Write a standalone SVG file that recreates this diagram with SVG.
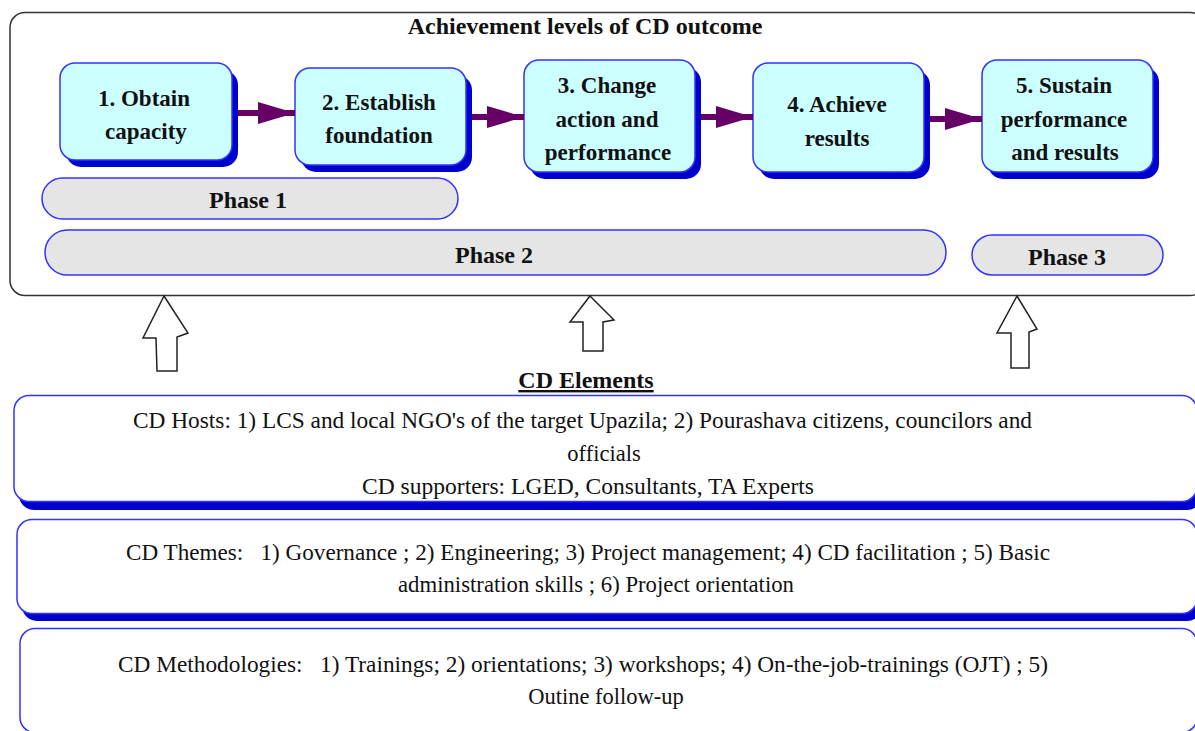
<svg xmlns="http://www.w3.org/2000/svg" width="1195" height="731" viewBox="0 0 1195 731">
  <style>
    .frame { fill: #ffffff; stroke: #333333; stroke-width: 1.5; }
    .level { fill: #ccffff; stroke: #3333ff; stroke-width: 1.5; }
    .shadow { fill: #0000cc; }
    .phase { fill: #e5e5e5; stroke: #3333ff; stroke-width: 1.5; }
    .panel { fill: #ffffff; stroke: #3333ff; stroke-width: 1.5; }
    .up { fill: #ffffff; stroke: #222222; stroke-width: 1.5; stroke-linejoin: miter; }
    .flow { stroke: #660066; stroke-width: 6; fill: none; marker-end: url(#head); }
    text { font-family: 'Liberation Serif', 'Times New Roman', serif; fill: #111111; text-anchor: middle; }
    .b { font-weight: bold; font-size: 23px; }
    .h { font-weight: bold; font-size: 24px; }
    .r { font-size: 22.5px; }
  </style>
  <defs>
    <marker id="head" markerUnits="userSpaceOnUse" markerWidth="37" markerHeight="22" refX="37" refY="11" orient="auto">
      <path d="M0,0 L37,11 L0,22 z" fill="#660066"/>
    </marker>
  </defs>

  <!-- outer frame: achievement levels -->
  <g id="outcome-frame">
    <rect class="frame" x="10" y="12.5" width="1195" height="283" rx="15"/>
    <text class="h" x="585" y="34">Achievement levels of CD outcome</text>
  </g>

  <!-- achievement level boxes -->
  <g id="level1">
    <rect class="shadow" x="66" y="70" width="172" height="97" rx="15"/>
    <rect class="level" x="60" y="63" width="172" height="97" rx="15"/>
    <text class="b" x="144" y="106">1. Obtain</text>
    <text class="b" x="146" y="139">capacity</text>
  </g>
  <g id="level2">
    <rect class="shadow" x="301" y="75" width="171" height="97" rx="15"/>
    <rect class="level" x="295" y="68" width="171" height="97" rx="15"/>
    <text class="b" x="379" y="110">2. Establish</text>
    <text class="b" x="379" y="143">foundation</text>
  </g>
  <g id="level3">
    <rect class="shadow" x="530" y="67" width="171" height="112" rx="15"/>
    <rect class="level" x="524" y="60" width="171" height="112" rx="15"/>
    <text class="b" x="607" y="93">3. Change</text>
    <text class="b" x="607" y="127">action and</text>
    <text class="b" x="608" y="160">performance</text>
  </g>
  <g id="level4">
    <rect class="shadow" x="759" y="70" width="171" height="109" rx="15"/>
    <rect class="level" x="753" y="63" width="171" height="109" rx="15"/>
    <text class="b" x="837" y="112">4. Achieve</text>
    <text class="b" x="837" y="146">results</text>
  </g>
  <g id="level5">
    <rect class="shadow" x="988" y="67" width="171" height="112" rx="15"/>
    <rect class="level" x="982" y="60" width="171" height="112" rx="15"/>
    <text class="b" x="1064" y="93">5. Sustain</text>
    <text class="b" x="1064" y="127">performance</text>
    <text class="b" x="1065" y="160">and results</text>
  </g>

  <!-- phase bars -->
  <g id="phase1">
    <rect class="phase" x="42" y="178" width="416" height="41" rx="20.5"/>
    <text class="h" x="248" y="208">Phase 1</text>
  </g>
  <g id="phase2">
    <rect class="phase" x="45" y="230" width="901" height="45" rx="22.5"/>
    <text class="h" x="494" y="263">Phase 2</text>
  </g>
  <g id="phase3">
    <rect class="phase" x="972" y="235" width="191" height="40" rx="20"/>
    <text class="h" x="1067" y="265">Phase 3</text>
  </g>

  <!-- connectors -->
  <g id="connectors">
    <line class="flow" x1="238" y1="113" x2="295" y2="113"/>
    <line class="flow" x1="472" y1="117" x2="524" y2="117"/>
    <line class="flow" x1="701" y1="117" x2="753" y2="117"/>
    <line class="flow" x1="930" y1="119" x2="982" y2="119"/>
    <polygon class="up" points="164,296 188,333 177,337 177,371 157,371 156,338 143,338"/>
    <polygon class="up" points="590,296 614,320 603,322 603,351 583,351 583,322 570,322"/>
    <polygon class="up" points="1017,296 1037,329 1029,332 1029,368 1011,368 1011,333 997,333"/>
  </g>

  <!-- CD elements -->
  <g id="elements-heading">
    <text class="h" x="586" y="388" text-decoration="underline">CD Elements</text>
  </g>
  <g id="hosts">
    <rect class="shadow" x="19" y="404" width="1183" height="106" rx="15"/>
    <rect class="panel" x="14" y="395.5" width="1183" height="106" rx="15"/>
    <text class="r" x="582.5" y="428" textLength="899" lengthAdjust="spacingAndGlyphs">CD Hosts: 1) LCS and local NGO's of the target Upazila; 2) Pourashava citizens, councilors and</text>
    <text class="r" x="604" y="461">officials</text>
    <text class="r" x="588" y="494" textLength="452" lengthAdjust="spacingAndGlyphs">CD supporters: LGED, Consultants, TA Experts</text>
  </g>
  <g id="themes">
    <rect class="shadow" x="22" y="527" width="1180" height="94" rx="15"/>
    <rect class="panel" x="17" y="519.5" width="1180" height="94" rx="15"/>
    <text class="r" x="588" y="560" textLength="924" lengthAdjust="spacingAndGlyphs" xml:space="preserve">CD Themes:   1) Governance ; 2) Engineering; 3) Project management; 4) CD facilitation ; 5) Basic</text>
    <text class="r" x="596" y="592" textLength="396" lengthAdjust="spacingAndGlyphs">administration skills ; 6) Project orientation</text>
  </g>
  <g id="methodologies">
    <rect class="panel" x="20" y="628.5" width="1177" height="104" rx="15"/>
    <text class="r" x="583" y="672" textLength="930" lengthAdjust="spacingAndGlyphs" xml:space="preserve">CD Methodologies:   1) Trainings; 2) orientations; 3) workshops; 4) On-the-job-trainings (OJT) ; 5)</text>
    <text class="r" x="606" y="704">Outine follow-up</text>
  </g>
</svg>
